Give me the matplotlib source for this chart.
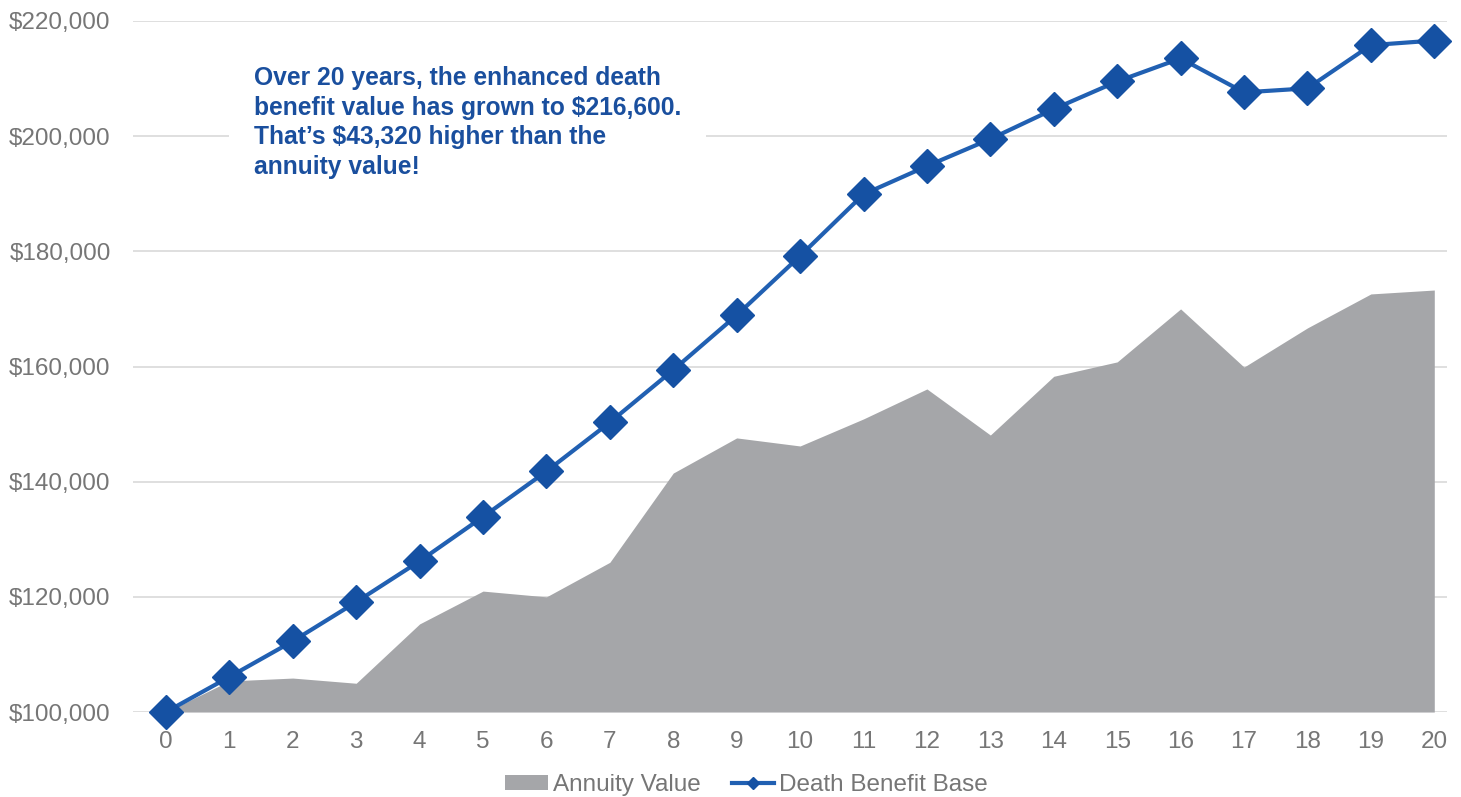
import matplotlib
matplotlib.use("Agg")
import matplotlib.pyplot as plt
from matplotlib.ticker import FuncFormatter
from matplotlib.lines import Line2D
from matplotlib.patches import Patch

plt.rcParams['font.family'] = ['Liberation Sans', 'DejaVu Sans']

years = list(range(0, 21))
annuity_value = [100000, 105400, 105900, 105000, 115300, 121000, 120000, 126000,
                 141500, 147600, 146200, 150900, 156100, 148100, 158300, 160800,
                 170000, 159900, 166700, 172600, 173280]
death_benefit = [100000, 106100, 112300, 119100, 126200, 133900, 141800, 150300,
                 159400, 168900, 179200, 189900, 194800, 199500, 204700, 209500,
                 213500, 207600, 208300, 215800, 216600]
y_ticks = [100000, 120000, 140000, 160000, 180000, 200000, 220000]
legend_labels = ["Annuity Value", "Death Benefit Base"]
note = ("Over 20 years, the enhanced death\n"
        "benefit value has grown to $216,600.\n"
        "That\u2019s $43,320 higher than the\n"
        "annuity value!")

gray_fill = '#a5a6a9'
line_blue = '#2160b2'
marker_blue = '#1551a3'
text_gray = '#767676'
grid_gray = '#d9d9d9'

fig = plt.figure(figsize=(14.61, 7.97), dpi=100)
ax = fig.add_axes([0.091, 0.1066, 0.8994, 0.8671])

ax.fill_between(years, y_ticks[0], annuity_value, color=gray_fill, lw=0, zorder=2)
ax.plot(years, death_benefit, color=line_blue, lw=3, zorder=3, clip_on=False)
ax.plot(years, death_benefit, ls='none', marker='D', ms=17.5,
        color=marker_blue, zorder=4, clip_on=False)

ax.set_xlim(-0.52, 20.2)
ax.set_ylim(y_ticks[0], y_ticks[-1])
ax.set_yticks(y_ticks)
ax.set_xticks(years)
ax.yaxis.set_major_formatter(FuncFormatter(lambda v, p: f"${v:,.0f}"))
ax.grid(axis='y', color=grid_gray, lw=1.2, zorder=0)
ax.set_axisbelow(True)
for s in ax.spines.values():
    s.set_visible(False)
ax.tick_params(length=0, labelsize=17.5, labelcolor=text_gray)
ax.tick_params(axis='y', pad=16)
ax.tick_params(axis='x', pad=14)

ax.text(254 / 1461, 1 - 66 / 797, note, transform=fig.transFigure,
        ha='left', va='top', fontsize=17.7, fontweight='bold',
        color='#1a4f9e', linespacing=1.29,
        bbox=dict(boxstyle='square,pad=1.0', fc='white', ec='none'),
        zorder=5)

handles = [Patch(facecolor=gray_fill, edgecolor='none'),
           Line2D([0], [0], color=line_blue, lw=3, marker='D', ms=6.5,
                  markerfacecolor=marker_blue, markeredgecolor=marker_blue)]
fig.legend(handles, legend_labels, loc='center', bbox_to_anchor=(0.511, 0.015),
           ncol=2, frameon=False, fontsize=17.5, labelcolor=text_gray,
           handlelength=1.75, handletextpad=0.2, columnspacing=1.3,
           handleheight=0.55)

fig.savefig("out.png", dpi=100)
